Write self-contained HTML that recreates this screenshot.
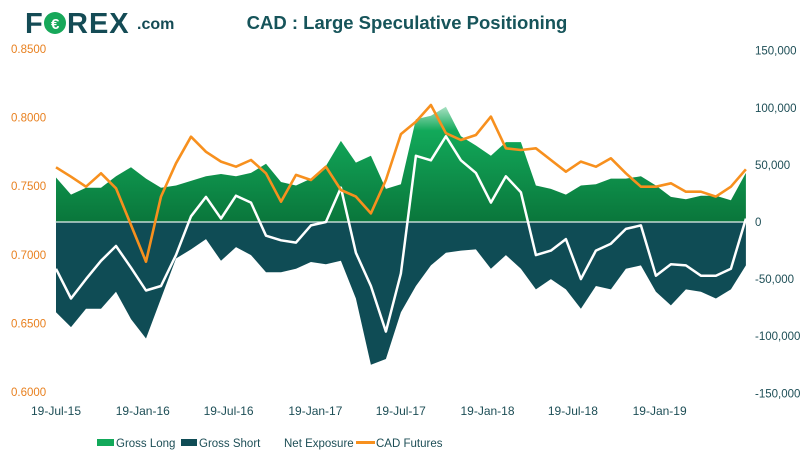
<!DOCTYPE html>
<html><head><meta charset="utf-8">
<style>
body{margin:0;background:#fff;}
svg{display:block;font-family:"Liberation Sans",sans-serif;}
</style></head>
<body>
<svg id="chart" width="800" height="457" viewBox="0 0 800 457" xmlns="http://www.w3.org/2000/svg">
<defs>
<linearGradient id="gLong" gradientUnits="userSpaceOnUse" x1="0" y1="95" x2="0" y2="222">
<stop offset="0" stop-color="#f2fbf5"/>
<stop offset="0.28" stop-color="#12a95a"/>
<stop offset="1" stop-color="#0a763b"/>
</linearGradient>
</defs>
<g>
<text x="25" y="33" font-size="29" font-weight="bold" fill="#144b55">F</text>
<circle cx="55" cy="23" r="11" fill="#17a85a"/>
<text x="51" y="29" font-size="15" font-weight="bold" fill="#fff">€</text>
<text x="67" y="33" font-size="29" font-weight="bold" fill="#144b55" letter-spacing="1">REX</text>
<text x="137" y="29" font-size="16" font-weight="bold" fill="#144b55">.com</text>
</g>
<text x="407" y="29" text-anchor="middle" font-size="18.5" font-weight="bold" fill="#16545a">CAD : Large Speculative Positioning</text>
<g id="plot"></g>
<g id="axes"></g>
<g font-size="11.5" fill="#1d4e56">
<g><rect x="97" y="439" width="17" height="7" fill="#12a95a"/><text x="116" y="447">Gross Long</text></g>
<g><rect x="181" y="439" width="16" height="7" fill="#0f4c55"/><text x="199" y="447">Gross Short</text></g>
<g><text x="284" y="447">Net Exposure</text></g>
<g><rect x="356" y="441" width="19" height="3" fill="#f7901e"/><text x="376" y="447">CAD Futures</text></g>
</g>
</svg>
<script>
const startDate = "2015-07-19";
const stepDays = 31.8;
const grossLong = [39,24,30,30,40,48,38,30,32,36,40,42,40,43,51,35,32,38,49,71,52,58,29,33,90,93,101,75,67,58,70,70,32,29,24,32,33,38,38,40,32,22,20,23,23,19,43];
const grossShort = [-79,-92,-76,-76,-61,-85,-102,-67,-32,-24,-15,-34,-22,-29,-44,-44,-41,-35,-37,-34,-67,-125,-120,-79,-56,-38,-27,-25,-24,-41,-29,-41,-59,-50,-59,-76,-56,-59,-41,-38,-61,-73,-59,-61,-67,-59,-38];
const netExposure = [-41,-67,-50,-34,-21,-40,-60,-56,-29,5,22,3,23,17,-12,-16,-18,-3,0,30,-27,-56,-96,-45,58,54,75,54,43,17,40,26,-29,-25,-15,-50,-25,-19,-6,-3,-47,-37,-38,-47,-47,-41,3];
const cadFutures = [0.7638,0.7569,0.7496,0.7594,0.7485,0.7217,0.6950,0.7424,0.7667,0.7861,0.7751,0.7679,0.7642,0.7691,0.7594,0.7387,0.7582,0.7545,0.7642,0.7472,0.7424,0.7302,0.7545,0.7880,0.7970,0.8092,0.7886,0.7837,0.7873,0.8007,0.7776,0.7764,0.7776,0.7691,0.7606,0.7679,0.7642,0.7703,0.7594,0.7496,0.7496,0.7521,0.7460,0.7460,0.7424,0.7496,0.7623];
const leftTicks = ["0.8500","0.8000","0.7500","0.7000","0.6500","0.6000"];
const rightTicks = [150000,100000,50000,0,-50000,-100000,-150000];
const xTickLabels = ["19-Jul-15","19-Jan-16","19-Jul-16","19-Jan-17","19-Jul-17","19-Jan-18","19-Jul-18","19-Jan-19"];
const xTickDates = ["2015-07-19","2016-01-19","2016-07-19","2017-01-19","2017-07-19","2018-01-19","2018-07-19","2019-01-19"];

const NS="http://www.w3.org/2000/svg";
const t0 = Date.parse(startDate);
function xDays(d){return 56 + d*0.4716;}
function xDate(s){return xDays((Date.parse(s)-t0)/86400000);}
function xIdx(i){return xDays(i*stepDays);}
function yR(v){return 222 - v/50000*57.1;}
function yK(k){return yR(k*1000);}
function yL(p){return 49 + (0.85-p)/0.05*68.6;}
function mk(tag,attrs,parent){const e=document.createElementNS(NS,tag);for(const k in attrs)e.setAttribute(k,attrs[k]);parent.appendChild(e);return e;}
const plot=document.getElementById('plot'), axes=document.getElementById('axes');

function areaPath(arr){
  let d="M"+xIdx(0).toFixed(1)+","+yK(0).toFixed(1);
  arr.forEach((v,i)=>{d+=" L"+xIdx(i).toFixed(1)+","+yK(v).toFixed(1);});
  d+=" L"+xIdx(arr.length-1).toFixed(1)+","+yK(0).toFixed(1)+" Z";return d;
}
function linePath(arr,f){return arr.map((v,i)=>(i?"L":"M")+xIdx(i).toFixed(1)+","+f(v).toFixed(1)).join(" ");}

const aL=mk('path',{d:areaPath(grossLong),fill:'url(#gLong)'},plot);


const aS=mk('path',{d:areaPath(grossShort),fill:'#0f4c55'},plot);


const zl=mk('line',{x1:55,x2:746,y1:yK(0),y2:yK(0),stroke:'#e8eeee','stroke-width':1.2},plot);


const lN=mk('path',{d:linePath(netExposure,yK),fill:'none',stroke:'#fff','stroke-width':2.5,'stroke-linejoin':'round'},plot);


const lC=mk('path',{d:linePath(cadFutures,yL),fill:'none',stroke:'#f7901e','stroke-width':2.6,'stroke-linejoin':'round'},plot);



leftTicks.forEach(t=>{
  const e=mk('text',{x:11,y:yL(parseFloat(t))+4,'font-size':11.5,fill:'#e8801f'},axes);e.textContent=t;
  
  
});
rightTicks.forEach(t=>{
  const e=mk('text',{x:755,y:yR(t)+4,'font-size':11.5,fill:'#1d4e56'},axes);e.textContent=t.toLocaleString('en-US');
  
  
});
xTickLabels.forEach((t,i)=>{
  const e=mk('text',{x:xDate(xTickDates[i]),y:415,'font-size':12,fill:'#1d4e56','text-anchor':'middle'},axes);e.textContent=t;
  
  
});
</script>
</body></html>
